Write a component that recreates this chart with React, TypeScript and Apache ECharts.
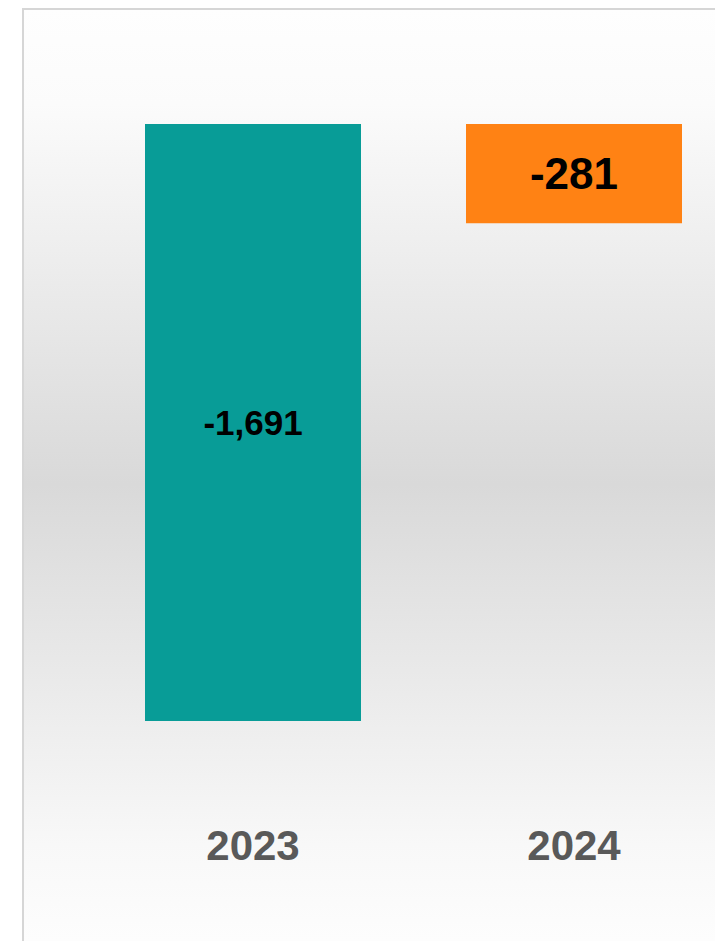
import React, { useEffect, useRef } from "react";
import * as echarts from "echarts";

const categories = ["2023", "2024"];
const values = [-1691, -281];
const barColors = ["#089c97", "#ff8214"];
const labelSizes = [35, 44];

export default function App() {
  const ref = useRef<HTMLDivElement>(null);
  useEffect(() => {
    if (!ref.current) return;
    const chart = echarts.init(ref.current, undefined, { renderer: "svg" });
    chart.setOption({
      animation: false,
      graphic: [
        {
          type: "rect",
          z: -10,
          silent: true,
          shape: { x: 23, y: 9, width: 770, height: 950 },
          style: {
            fill: new echarts.graphic.LinearGradient(0, 0, 0, 1, [
              { offset: 0, color: "#fefefe" },
              { offset: 0.1, color: "#fbfbfb" },
              { offset: 0.5, color: "#d9d9d9" },
              { offset: 0.88, color: "#f8f8f8" },
              { offset: 1, color: "#fefefe" },
            ]),
            stroke: "#d6d6d6",
            lineWidth: 2,
          },
        },
      ],
      grid: { left: 92.5, top: 124, width: 642, height: 706, containLabel: false },
      xAxis: {
        type: "category",
        data: categories,
        position: "bottom",
        axisLine: { show: false },
        axisTick: { show: false },
        axisLabel: {
          margin: -6,
          fontSize: 42,
          fontWeight: "bold",
          color: "#595959",
          fontFamily: "Liberation Sans, Arial, sans-serif",
          lineHeight: 42,
        },
      },
      yAxis: {
        type: "value",
        min: -2000,
        max: 0,
        show: false,
        splitLine: { show: false },
      },
      series: [
        {
          type: "bar",
          barWidth: 216,
          data: values.map((v, i) => ({
            value: v,
            itemStyle: { color: barColors[i] },
            label: { fontSize: labelSizes[i] },
          })),
          label: {
            show: true,
            position: "inside",
            fontWeight: "bold",
            color: "#000000",
            fontFamily: "Liberation Sans, Arial, sans-serif",
            formatter: (p: any) => p.value.toLocaleString("en-US"),
          },
        },
      ],
    });
    return () => chart.dispose();
  }, []);
  return (
    <div
      style={{ position: "absolute", left: 0, top: 0, width: 715, height: 941, overflow: "hidden" }}
    >
      <div ref={ref} style={{ width: 770, height: 941 }} />
    </div>
  );
}
